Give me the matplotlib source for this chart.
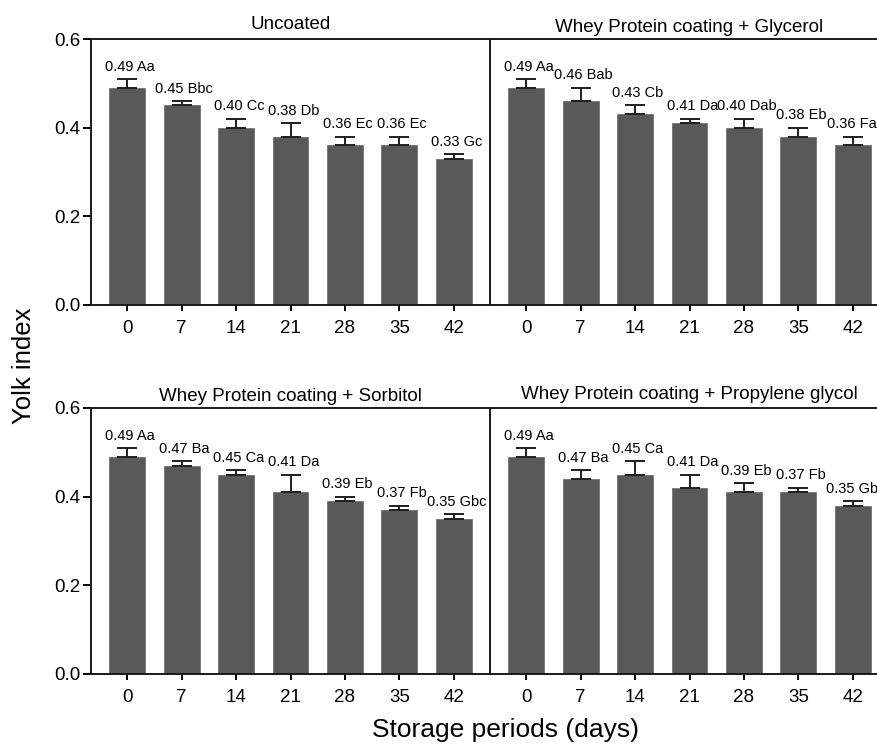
import numpy as np
import matplotlib
matplotlib.use("Agg")
import matplotlib.pyplot as plt

plt.rcParams["font.family"] = ["Liberation Sans", "DejaVu Sans"]

days = ["0", "7", "14", "21", "28", "35", "42"]

titles = [
    "Uncoated",
    "Whey Protein coating + Glycerol",
    "Whey Protein coating + Sorbitol",
    "Whey Protein coating + Propylene glycol",
]

# bar heights and upper error
uncoated_mean = [0.49, 0.45, 0.40, 0.38, 0.36, 0.36, 0.33]
uncoated_err = [0.02, 0.01, 0.02, 0.03, 0.02, 0.02, 0.01]
uncoated_lbl = ["0.49 Aa", "0.45 Bbc", "0.40 Cc", "0.38 Db", "0.36 Ec", "0.36 Ec", "0.33 Gc"]

glycerol_mean = [0.49, 0.46, 0.43, 0.41, 0.40, 0.38, 0.36]
glycerol_err = [0.02, 0.03, 0.02, 0.01, 0.02, 0.02, 0.02]
glycerol_lbl = ["0.49 Aa", "0.46 Bab", "0.43 Cb", "0.41 Da", "0.40 Dab", "0.38 Eb", "0.36 Fab"]

sorbitol_mean = [0.49, 0.47, 0.45, 0.41, 0.39, 0.37, 0.35]
sorbitol_err = [0.02, 0.01, 0.01, 0.04, 0.01, 0.01, 0.01]
sorbitol_lbl = ["0.49 Aa", "0.47 Ba", "0.45 Ca", "0.41 Da", "0.39 Eb", "0.37 Fb", "0.35 Gbc"]

propylene_mean = [0.49, 0.44, 0.45, 0.42, 0.41, 0.41, 0.38]
propylene_err = [0.02, 0.02, 0.03, 0.03, 0.02, 0.01, 0.01]
propylene_lbl = ["0.49 Aa", "0.47 Ba", "0.45 Ca", "0.41 Da", "0.39 Eb", "0.37 Fb", "0.35 Gbc"]

panels = [
    (uncoated_mean, uncoated_err, uncoated_lbl),
    (glycerol_mean, glycerol_err, glycerol_lbl),
    (sorbitol_mean, sorbitol_err, sorbitol_lbl),
    (propylene_mean, propylene_err, propylene_lbl),
]

W, H = 877, 746
fig = plt.figure(figsize=(W / 100, H / 100), dpi=100)

# axes boxes in pixels (left, top); the right column runs past the image edge
boxes = [(91, 39), (490, 39), (91, 408), (490, 408)]
aw, ah = 399, 266
title_pads = [7.5, 5.0, 4.8, 6.5]

bar_color = "#595959"
x = np.arange(len(days))

for i, ((mean, err, lbl), (px, py)) in enumerate(zip(panels, boxes)):
    ax = fig.add_axes([px / W, 1 - (py + ah) / H, aw / W, ah / H])
    mean = np.array(mean)
    err = np.array(err)
    ax.bar(x, mean, width=0.66, color=bar_color, edgecolor="#727272",
           linewidth=0.6, zorder=2)
    ax.errorbar(x, mean, yerr=[np.zeros_like(err), err], fmt="none",
                ecolor="#1e1e1e", elinewidth=1.4, capsize=7, capthick=1.4,
                zorder=3)
    for xi, top, text in zip(x, mean + err, lbl):
        ax.annotate(text, (xi, top), xytext=(2, 6), textcoords="offset points",
                    ha="center", va="baseline", fontsize=10.5,
                    annotation_clip=False)

    ax.set_xlim(-0.665, 6.665)
    ax.set_ylim(0, 0.6)
    ax.set_xticks(x)
    ax.set_xticklabels(days, fontsize=13.5)
    ax.set_yticks([0.0, 0.2, 0.4, 0.6])
    ax.set_title(titles[i], fontsize=13.5, pad=title_pads[i])

    ax.spines["right"].set_visible(False)
    for s in ["left", "top", "bottom"]:
        ax.spines[s].set_linewidth(1.4)
        ax.spines[s].set_color("#1a1a1a")
    ax.tick_params(axis="x", length=4.5, width=1.4, direction="out", pad=6)
    if i % 2 == 0:
        ax.set_yticklabels(["0.0", "0.2", "0.4", "0.6"], fontsize=13.5)
        ax.tick_params(axis="y", length=6, width=1.4, direction="out", pad=1.5)
    else:
        ax.tick_params(axis="y", left=False, labelleft=False)

fig.text(24 / W, 1 - 366 / H, "Yolk index", rotation=90, fontsize=18.5,
         ha="center", va="center")
fig.text(506 / W, 1 - 737 / H, "Storage periods (days)", fontsize=19,
         ha="center", va="baseline")

fig.savefig("out.png", dpi=100)
